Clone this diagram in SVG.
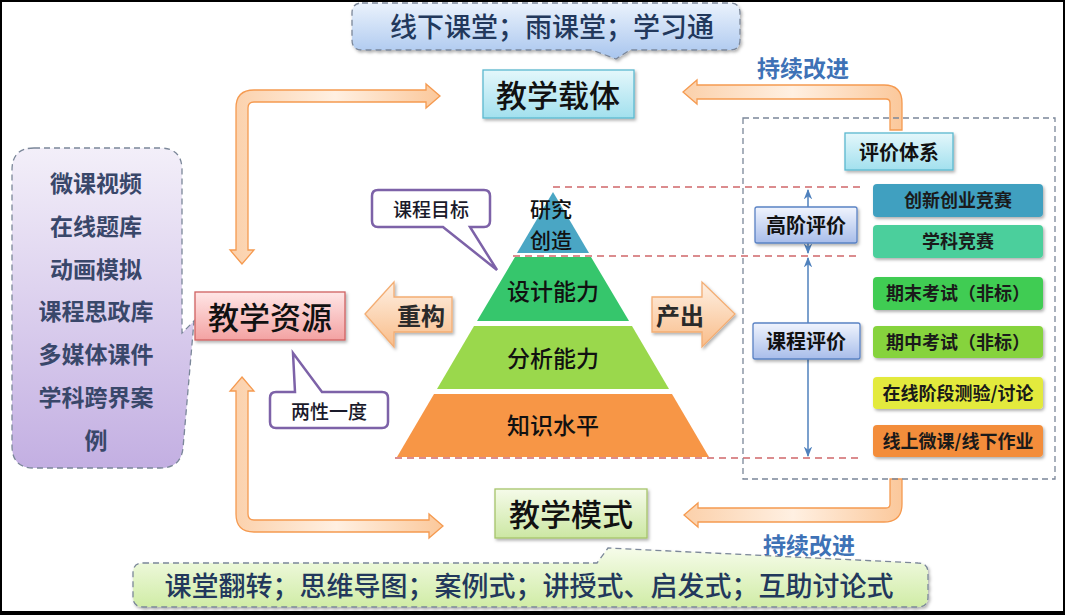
<svg xmlns="http://www.w3.org/2000/svg" width="1065" height="615" viewBox="0 0 1065 615">
<defs>
<linearGradient id="gCyan" x1="0" y1="0" x2="0" y2="1"><stop offset="0" stop-color="#e4f7fb"/><stop offset="1" stop-color="#a2e0ee"/></linearGradient>
<linearGradient id="gPink" x1="0" y1="0" x2="0" y2="1"><stop offset="0" stop-color="#ffe6e6"/><stop offset="1" stop-color="#f3a2a2"/></linearGradient>
<linearGradient id="gGreen" x1="0" y1="0" x2="0" y2="1"><stop offset="0" stop-color="#f5fbe9"/><stop offset="1" stop-color="#cce7a3"/></linearGradient>
<linearGradient id="gLav" x1="0" y1="0" x2="0" y2="1"><stop offset="0" stop-color="#f0f4fd"/><stop offset="1" stop-color="#a8bdea"/></linearGradient>
<linearGradient id="gTopC" x1="0" y1="0" x2="0" y2="1"><stop offset="0" stop-color="#eaf2fc"/><stop offset="1" stop-color="#a8c5ee"/></linearGradient>
<linearGradient id="gPurp" x1="0" y1="0" x2="0" y2="1"><stop offset="0" stop-color="#f3eff9"/><stop offset="1" stop-color="#c3afe2"/></linearGradient>
<linearGradient id="gBotC" x1="0" y1="0" x2="0" y2="1"><stop offset="0" stop-color="#f6fcea"/><stop offset="1" stop-color="#d0eca6"/></linearGradient>
<linearGradient id="gOrV" x1="0" y1="0" x2="1" y2="0"><stop offset="0" stop-color="#fbd0aa"/><stop offset="0.5" stop-color="#fff0e2"/><stop offset="1" stop-color="#fbc89b"/></linearGradient>
<linearGradient id="gBlock" x1="0" y1="0" x2="0" y2="1"><stop offset="0" stop-color="#fef0e3"/><stop offset="1" stop-color="#f9bd8a"/></linearGradient>
<filter id="sh" x="-10%" y="-10%" width="130%" height="140%"><feDropShadow dx="1.5" dy="2" stdDeviation="1.5" flood-color="#000" flood-opacity="0.3"/></filter>
<marker id="ah" viewBox="0 0 10 10" refX="9" refY="5" markerWidth="7" markerHeight="7" orient="auto-start-reverse"><path d="M0,1 L10,5 L0,9 L3,5 Z" fill="#4f81bd"/></marker>
</defs>
<style>
text{font-family:"Noto Sans CJK SC","Noto Sans",sans-serif;text-anchor:middle;dominant-baseline:central;fill:#111}
.big{font-size:31px;font-weight:500}
.call{font-size:27px;font-weight:500;fill:#22385c}
.list{font-size:23px;font-weight:700;fill:#39476a}
.tag{font-size:19px;font-weight:500;fill:#1a1a2a}
.lvl{font-size:23px;font-weight:500}
.ev{font-size:20px;font-weight:700}
.cb{font-size:18px;font-weight:700;fill:#1a1a1a}
.imp{font-size:23px;font-weight:700;fill:#3e72b6}
.dash{stroke-dasharray:6 4;stroke:#7b8799;stroke-width:1.3}
.red{stroke:#d0676a;stroke-width:1.5;stroke-dasharray:7 5;fill:none}
.orA{fill:url(#gOrV);stroke:#f59a50;stroke-width:1.3}
.blk{fill:url(#gBlock);stroke:#f3ad73;stroke-width:1.3}
</style>
<rect x="0" y="0" width="1065" height="615" fill="#000"/>
<rect x="2" y="2" width="1061" height="609" fill="#fff"/>

<g id="connectors">
<path class="orA" d="M242 264 L230 250 L236 250 V108 Q236 90 254 90 H426 V84 L440 96 L426 108 V102 H254 Q248 102 248 108 V250 L254 250 Z"/>
<path class="orA" d="M242 377 L254 391 L248 391 V514 Q248 520 254 520 H429 V514 L443 526 L429 538 V532 H254 Q236 532 236 514 V391 L230 391 Z"/>
<path class="orA" d="M683 92 L697 80 V85 H884 Q902 85 902 103 V130 H890 V103 Q890 99 886 99 H697 V104 Z"/>
<path class="orA" d="M684 515 L698 503 V508 H886 Q890 508 890 504 V479 H902 V504 Q902 522 884 522 H698 V527 Z"/>
<line class="red" x1="553" y1="187" x2="860" y2="187"/>
<line class="red" x1="513" y1="256" x2="860" y2="256"/>
<line class="red" x1="395" y1="458" x2="860" y2="458"/>
<line x1="808" y1="190" x2="808" y2="253" stroke="#4f81bd" stroke-width="1.5" marker-start="url(#ah)" marker-end="url(#ah)"/>
<line x1="808" y1="258" x2="808" y2="456" stroke="#4f81bd" stroke-width="1.5" marker-start="url(#ah)" marker-end="url(#ah)"/>
</g>

<g id="callout-top">
<path d="M362 3 H730 Q740 3 740 13 V40 Q740 50 730 50 H630 L616 59 L592 50 H362 Q352 50 352 40 V13 Q352 3 362 3 Z" fill="url(#gTopC)" class="dash" filter="url(#sh)"/>
<text class="call" x="552" y="25">线下课堂；雨课堂；学习通</text>
</g>

<g id="node-carrier">
<rect x="483" y="70" width="151" height="48" fill="url(#gCyan)" stroke="#5bb8cf" stroke-width="1.3" filter="url(#sh)"/>
<text class="big" x="558" y="93">教学载体</text>
</g>

<g id="callout-resources">
<path d="M34 148 H160 Q182 148 182 170 V333 L194 321 L183 448 Q181 468 160 468 H34 Q12 468 12 446 V170 Q12 148 34 148 Z" fill="url(#gPurp)" class="dash"/>
<text class="list" x="96" y="182">微课视频</text>
<text class="list" x="96" y="225">在线题库</text>
<text class="list" x="96" y="268">动画模拟</text>
<text class="list" x="96" y="310">课程思政库</text>
<text class="list" x="96" y="353">多媒体课件</text>
<text class="list" x="96" y="396">学科跨界案</text>
<text class="list" x="96" y="439">例</text>
</g>

<g id="node-resources">
<rect x="195" y="292" width="150" height="48" fill="url(#gPink)" stroke="#d06262" stroke-width="1.3" filter="url(#sh)"/>
<text class="big" x="270" y="315">教学资源</text>
</g>

<g id="tag-liangxing">
<path d="M276 392 H295 L293 353 L322 392 H382 Q388 392 388 398 V422 Q388 428 382 428 H276 Q270 428 270 422 V398 Q270 392 276 392 Z" fill="#fff" stroke="#7d62a8" stroke-width="2.5"/>
<text class="tag" x="329" y="410">两性一度</text>
</g>

<g id="tag-goal">
<path d="M378 190 H484 Q490 190 490 196 V221 Q490 227 484 227 H470 L497 270 L443 227 H378 Q372 227 372 221 V196 Q372 190 378 190 Z" fill="#fff" stroke="#7d62a8" stroke-width="2.5"/>
<text class="tag" x="431" y="208">课程目标</text>
</g>

<g id="arrow-rebuild">
<path class="blk" d="M365 314 L394 282 V297 H452 V332 H394 V347 Z" filter="url(#sh)"/>
<text x="421" y="314" style="font-size:24px;font-weight:700;fill:#2a2a2a">重构</text>
</g>

<g id="arrow-output">
<path class="blk" d="M735 314 L702 282 V297 H652 V332 H702 V347 Z" filter="url(#sh)"/>
<text x="680" y="314" style="font-size:24px;font-weight:700;fill:#2a2a2a">产出</text>
</g>

<g id="pyramid">
<polygon points="553,192 589,253 517,253" fill="#4aa6c4"/>
<polygon points="515,257 591,257 629,321 477,321" fill="#36c66c"/>
<polygon points="474,326 632,326 669,389 437,389" fill="#9ad84c"/>
<polygon points="434,394 672,394 709,457 397,457" fill="#f79646"/>
<text x="551" y="208" style="font-size:21px;font-weight:500">研究</text>
<text x="551" y="239" style="font-size:21px;font-weight:500">创造</text>
<text class="lvl" x="553" y="290">设计能力</text>
<text class="lvl" x="553" y="357">分析能力</text>
<text class="lvl" x="553" y="424">知识水平</text>
</g>

<g id="eval-system">
<rect x="743" y="118" width="312" height="361" fill="none" class="dash"/>
<rect x="845" y="133" width="108" height="37" fill="url(#gCyan)" stroke="#5bb8cf" stroke-width="1.3" filter="url(#sh)"/>
<text class="ev" x="899" y="151">评价体系</text>
</g>

<g id="eval-high">
<rect x="755" y="207" width="102" height="36" rx="2" fill="url(#gLav)" stroke="#5a82c4" stroke-width="1.3" filter="url(#sh)"/>
<text class="ev" x="806" y="224">高阶评价</text>
</g>

<g id="eval-course">
<rect x="753" y="323" width="107" height="36" rx="2" fill="url(#gLav)" stroke="#5a82c4" stroke-width="1.3" filter="url(#sh)"/>
<text class="ev" x="806" y="340">课程评价</text>
</g>

<g id="item-1"><rect x="873" y="184" width="170" height="33" rx="4" fill="#41a0c0" filter="url(#sh)"/><text class="cb" x="958" y="199">创新创业竞赛</text></g>
<g id="item-2"><rect x="873" y="225" width="170" height="33" rx="4" fill="#4ccf9c" filter="url(#sh)"/><text class="cb" x="958" y="240">学科竞赛</text></g>
<g id="item-3"><rect x="873" y="277" width="170" height="33" rx="4" fill="#40cc52" filter="url(#sh)"/><text class="cb" x="958" y="292">期末考试（非标）</text></g>
<g id="item-4"><rect x="873" y="326" width="170" height="32" rx="4" fill="#86d33c" filter="url(#sh)"/><text class="cb" x="958" y="341">期中考试（非标）</text></g>
<g id="item-5"><rect x="873" y="377" width="170" height="32" rx="4" fill="#e3ea3e" filter="url(#sh)"/><text class="cb" x="958" y="392">在线阶段测验/讨论</text></g>
<g id="item-6"><rect x="873" y="425" width="170" height="32" rx="4" fill="#f38d3a" filter="url(#sh)"/><text class="cb" x="958" y="440">线上微课/线下作业</text></g>

<g id="label-improve-top"><text class="imp" x="803" y="67">持续改进</text></g>
<g id="label-improve-bottom"><text class="imp" x="809" y="544">持续改进</text></g>

<g id="node-mode">
<rect x="495" y="489" width="152" height="49" fill="url(#gGreen)" stroke="#a6c46a" stroke-width="1.3" filter="url(#sh)"/>
<text class="big" x="571" y="512">教学模式</text>
</g>

<g id="callout-bottom">
<path d="M143 563 H597 L608 548 L918 563 Q928 563 928 573 V597 Q928 607 918 607 H143 Q133 607 133 597 V573 Q133 563 143 563 Z" fill="url(#gBotC)" class="dash" filter="url(#sh)"/>
<text class="call" x="529" y="584">课堂翻转；思维导图；案例式；讲授式、启发式；互助讨论式</text>
</g>
</svg>
